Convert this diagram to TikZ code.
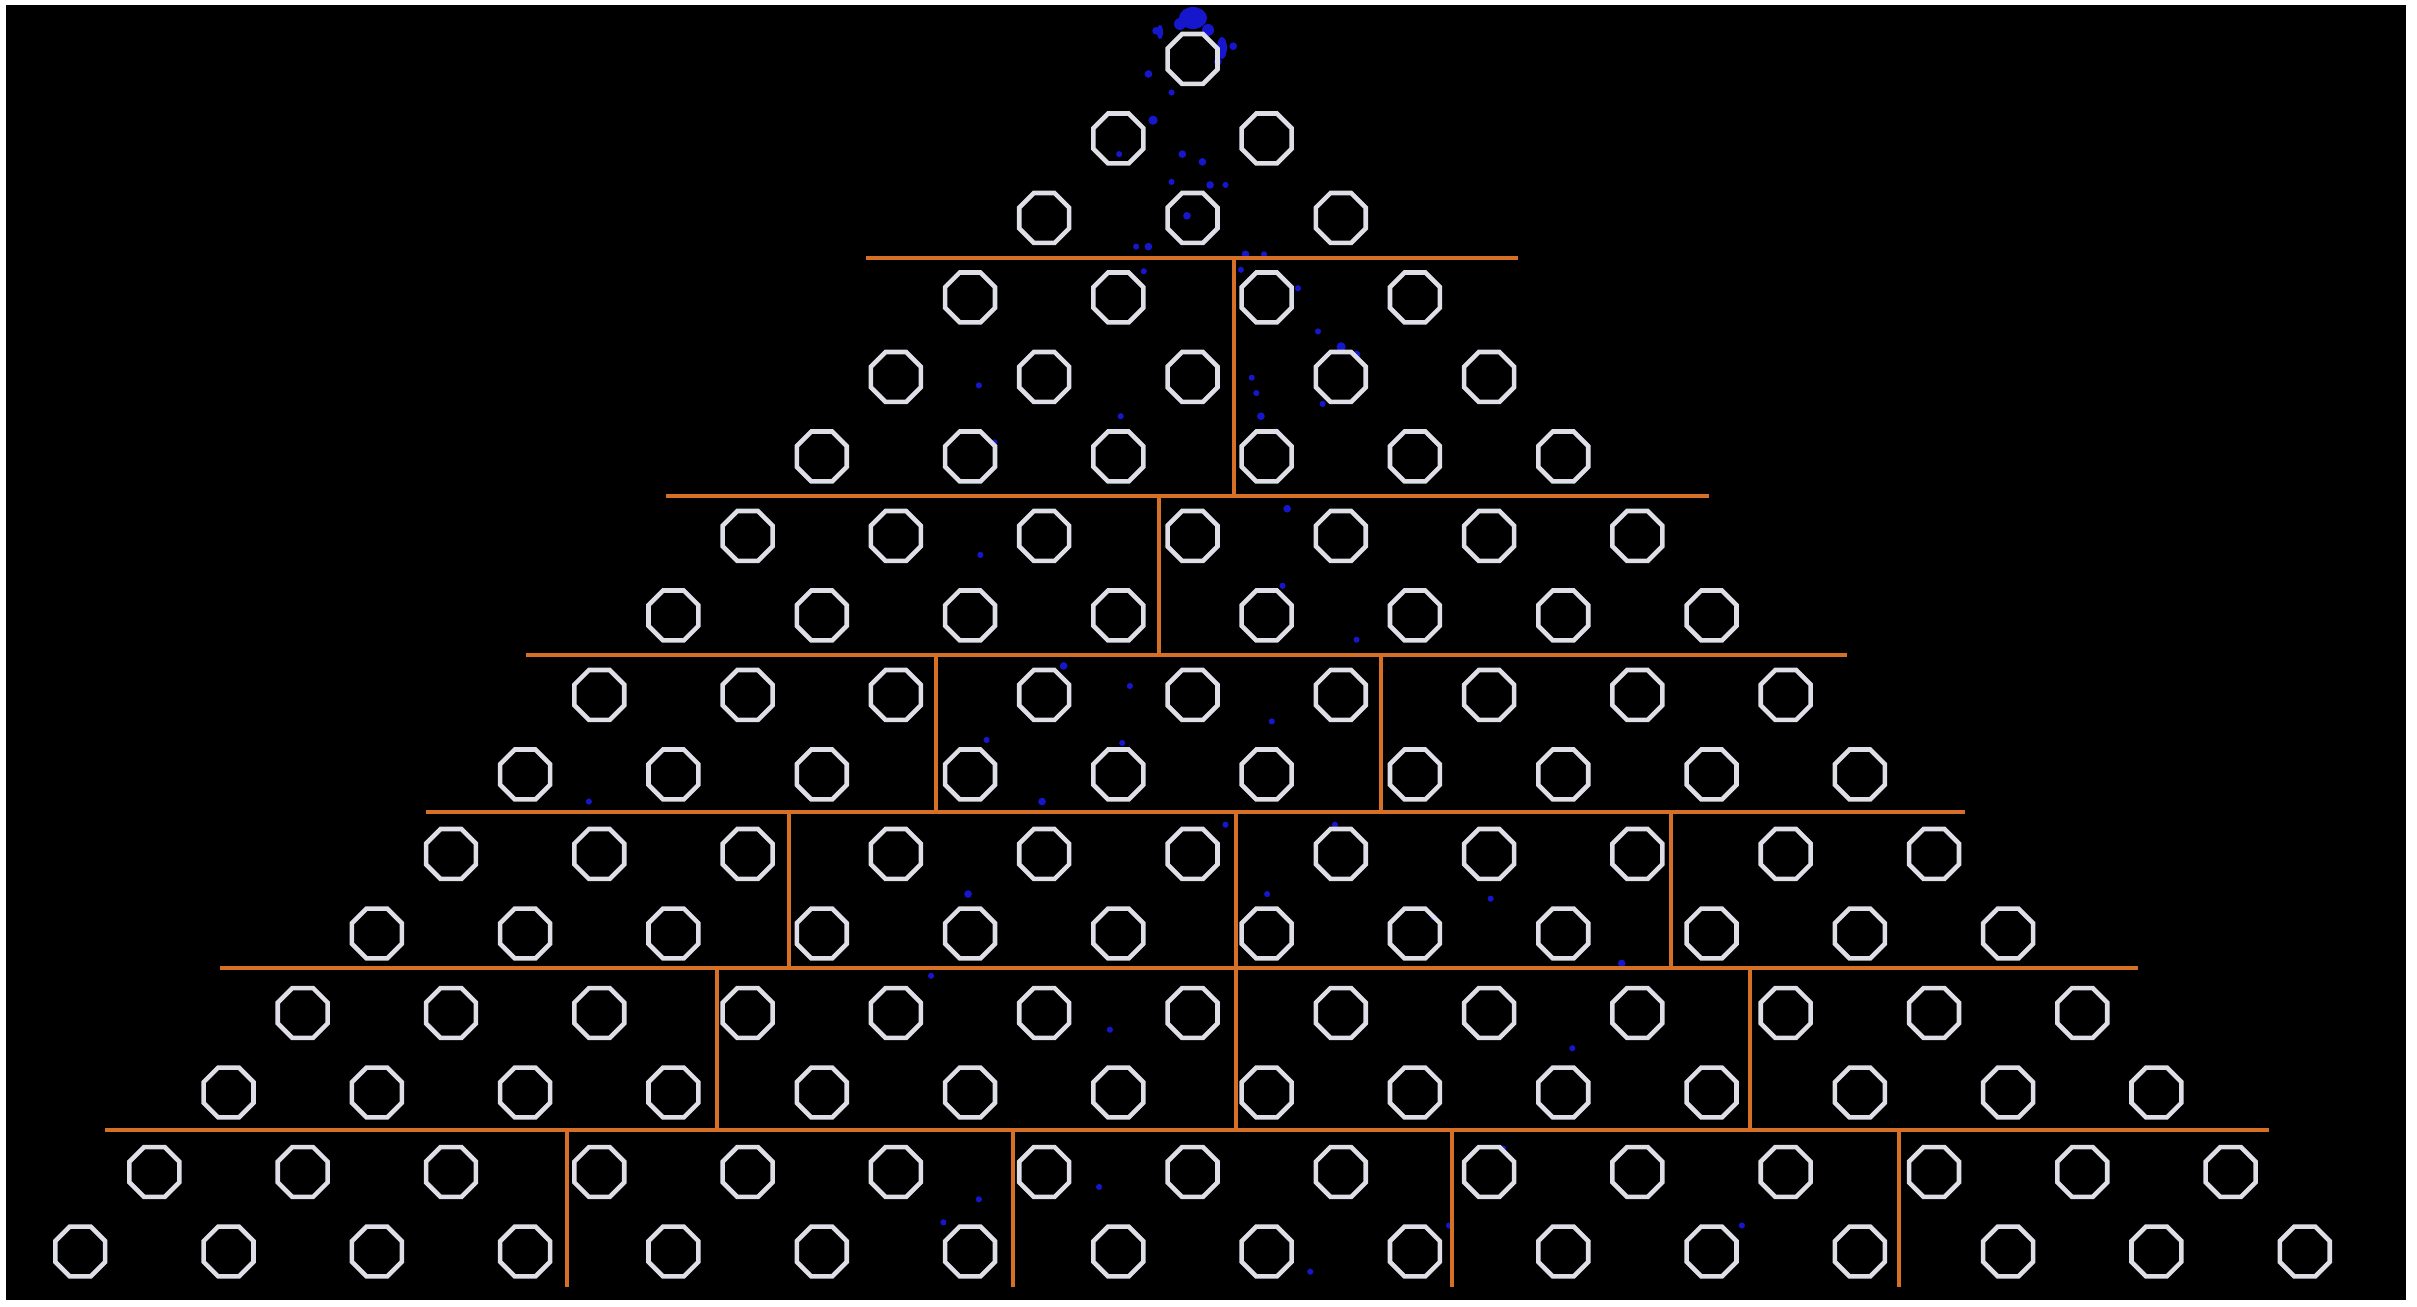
\documentclass[tikz,border=0pt]{standalone}
\usetikzlibrary{shapes.geometric}
\definecolor{peg}{RGB}{222,222,230}
\definecolor{wall}{RGB}{214,112,38}
\definecolor{ball}{RGB}{22,22,205}
\tikzset{
  pegnode/.style={regular polygon, regular polygon sides=8, draw=peg, line width=1.3pt, minimum size=0.54cm, inner sep=0pt},
  wallline/.style={draw=wall, line width=1.0pt},
  dot/.style={fill=ball, draw=none}
}
\begin{document}
\begin{tikzpicture}[x=0.01cm,y=-0.01cm]
\useasboundingbox (0,0) rectangle (2417,1307);
\fill[white] (0,0) rectangle (2417,1307);
\fill[black] (6,5) rectangle (2406,1300);
% blue balls
\fill[ball] (1193,18) ellipse (14 and 11);
\fill[ball] (1180,24) circle (6);
\fill[ball] (1208,30) circle (6);
\fill[ball] (1222,48) ellipse (5 and 11);
\fill[ball] (1160,32) ellipse (3 and 7);
\foreach \x/\y/\r in {750/20/2.5,745/48/2.5,800/30/2.5,790/40/2.5,748/78/3,767/100/2.5,780/105/2.5,760/118/2,785/120/2.5,795/120/2,737/160/2,745/160/2.5,808/165/2.5,820/165/2,842/187/2,870/225/3,880/230/2.5,855/215/2,818/270/2.5,812/245/2,828/280/2,635/250/2,727/270/2,835/330/2.5,832/380/2,880/415/2,636/360/2,690/432/2.5,825/468/2,733/445/2,640/480/2,728/482/2,676/520/2.5,382/520/2,866/535/2,795/535/2,628/580/2.5,822/580/2,930/595/2,604/633/2,1052/625/2.5,967/583/2,720/668/2,1020/680/2,635/778/2,713/770/2,975/745/2,850/825/2,940/795/2,1130/795/2,612/793/2,770/140/2.5,805/175/2,760/60/2,726/100/2,815/255/2,858/262/2,645/287/2,742/176/2}
  \fill[ball] ({\x*1.5415},{\y*1.5415}) circle ({\r*1.5415});
% pegs
\foreach \r in {0,...,15}{
  \foreach \k in {0,...,\r}{
    \node[pegnode] (p-\r-\k) at ({1192.5+(\k-\r/2)*148.3},{59+\r*79.5}) {};
  }
}
% walls
\draw[wallline] (866,258) -- (1518,258);
\draw[wallline] (666,496) -- (1709,496);
\draw[wallline] (526,655) -- (1847,655);
\draw[wallline] (426,812) -- (1965,812);
\draw[wallline] (220,968) -- (2138,968);
\draw[wallline] (105,1130) -- (2269,1130);
\draw[wallline] (1234,258) -- (1234,496);
\draw[wallline] (1159,496) -- (1159,655);
\foreach \x in {936,1381} \draw[wallline] (\x,655) -- (\x,812);
\foreach \x in {789,1236,1671} \draw[wallline] (\x,812) -- (\x,968);
\foreach \x in {717,1236,1750} \draw[wallline] (\x,968) -- (\x,1130);
\foreach \x in {567,1013,1452,1899} \draw[wallline] (\x,1130) -- (\x,1287);
\end{tikzpicture}
\end{document}
